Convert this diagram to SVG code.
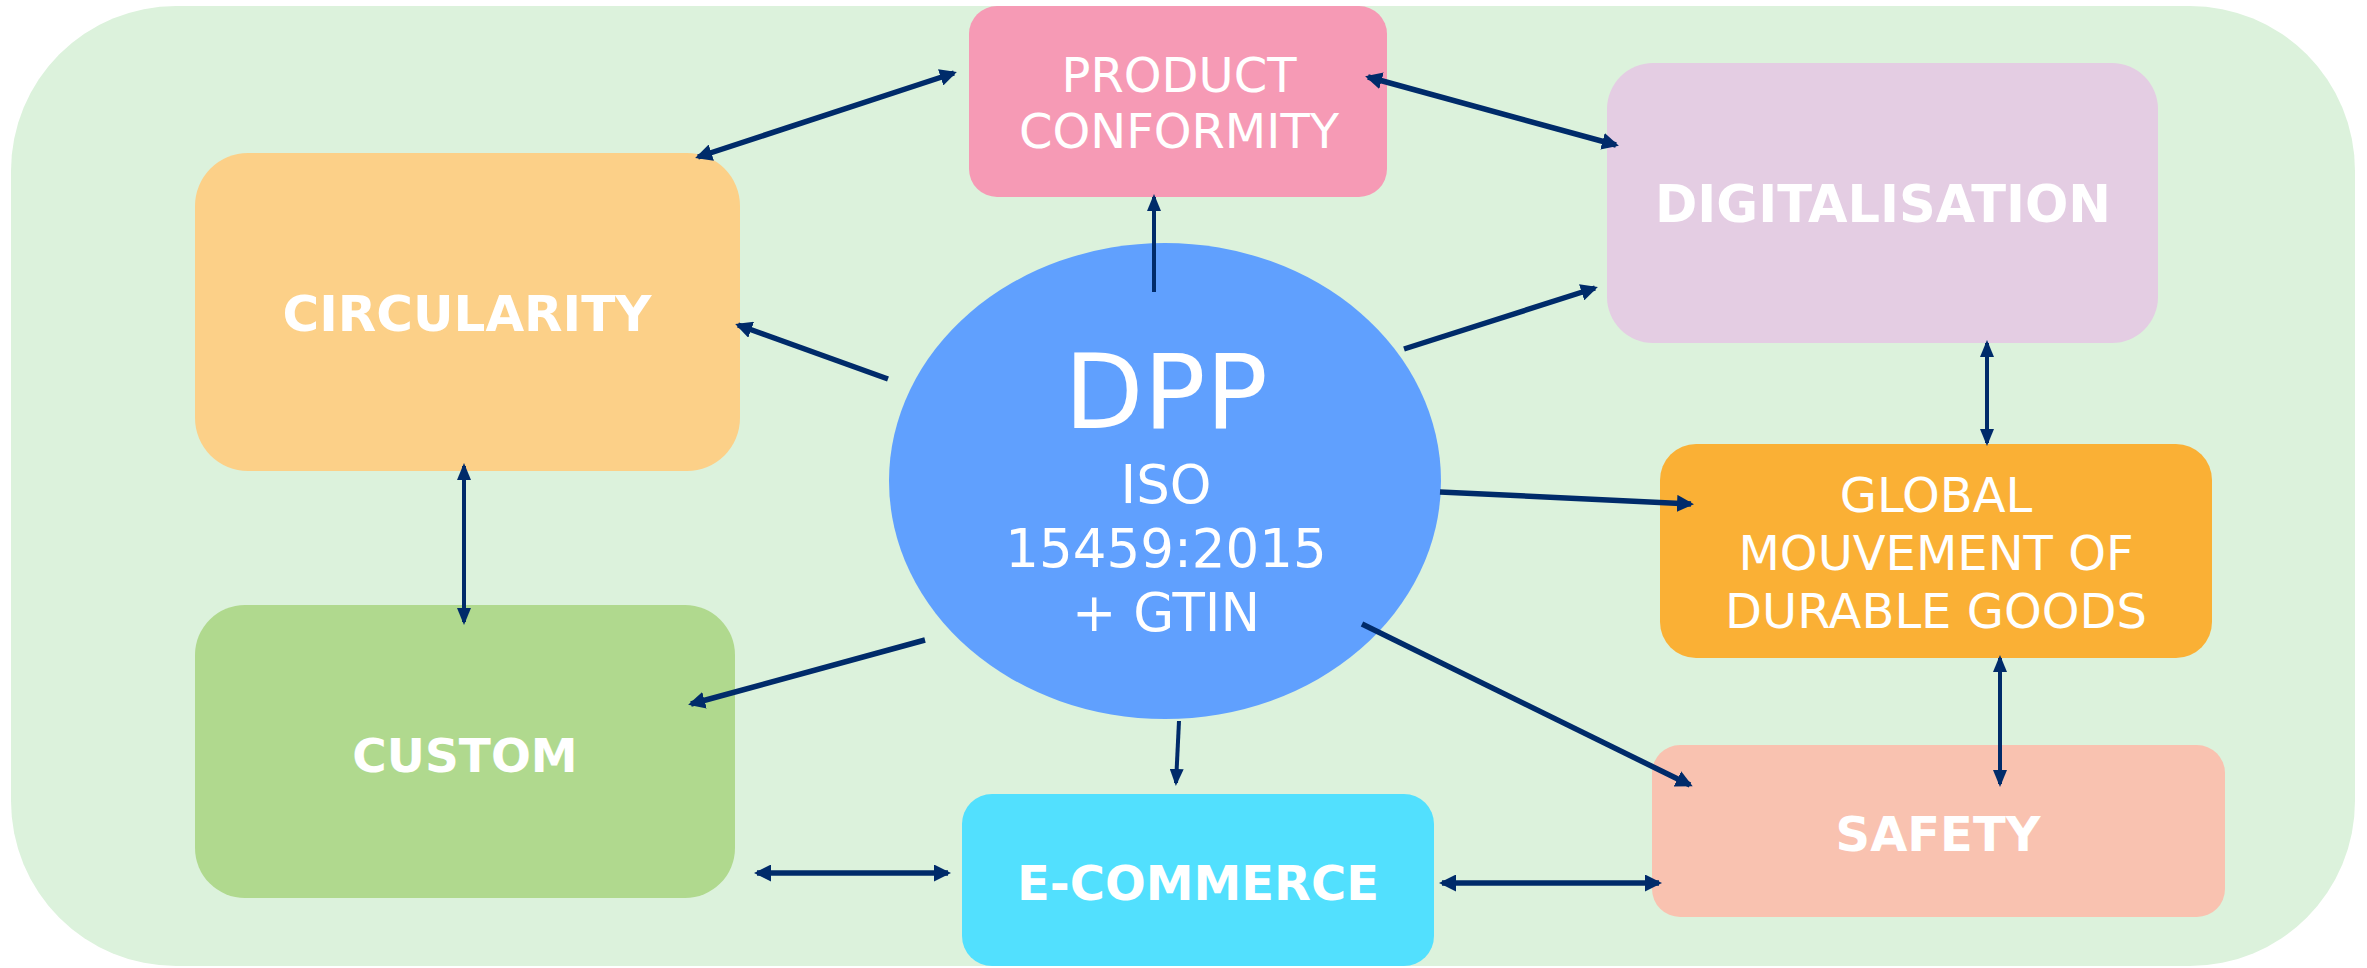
<svg xmlns="http://www.w3.org/2000/svg" width="2367" height="968" viewBox="0 0 2367 968">
<style>
.t{fill:#ffffff;font-family:"DejaVu Sans","Liberation Sans",sans-serif;text-anchor:middle}
.b{font-weight:bold}
.r{font-size:48px}
.c{fill:none;stroke:#002B6A}
.k{stroke-width:5.5}
.n{stroke-width:4}
</style>
<defs>
<marker id="ah" markerUnits="userSpaceOnUse" viewBox="0 0 17 17" refX="14" refY="8.5" markerWidth="17" markerHeight="17" orient="auto-start-reverse">
<path d="M0,0 L17,8.5 L0,17 z" fill="#002B6A"/>
</marker>
<marker id="an" markerUnits="userSpaceOnUse" viewBox="0 0 17 14" refX="14" refY="7" markerWidth="17" markerHeight="14" orient="auto-start-reverse">
<path d="M0,0 L17,7 L0,14 z" fill="#002B6A"/>
</marker>
</defs>
<rect x="11" y="6" width="2344" height="960" rx="165" ry="165" fill="#DCF2DC"/>

<g id="circularity">
<rect x="195" y="153" width="545" height="318" rx="53" fill="#FCD088"/>
<text class="t b" x="467" y="331" font-size="50">CIRCULARITY</text>
</g>
<g id="product-conformity">
<rect x="969" y="6" width="418" height="191" rx="28" fill="#F69AB5"/>
<text class="t r" x="1179" y="92">PRODUCT</text>
<text class="t r" x="1179" y="148">CONFORMITY</text>
</g>
<g id="digitalisation">
<rect x="1607" y="63" width="551" height="280" rx="46" fill="#E4CDE3"/>
<text class="t b" x="1883" y="222" font-size="51">DIGITALISATION</text>
</g>
<g id="global">
<rect x="1660" y="444" width="552" height="214" rx="36" fill="#FAB035"/>
<text class="t r" x="1936" y="512">GLOBAL</text>
<text class="t r" x="1936" y="570">MOUVEMENT OF</text>
<text class="t r" x="1936" y="628">DURABLE GOODS</text>
</g>
<g id="safety">
<rect x="1652" y="745" width="573" height="172" rx="28" fill="#F9C2B0"/>
<text class="t b" x="1938" y="851" font-size="48">SAFETY</text>
</g>
<g id="ecommerce">
<rect x="962" y="794" width="472" height="172" rx="30" fill="#52E0FE"/>
<text class="t b" x="1198" y="900" font-size="48">E-COMMERCE</text>
</g>
<g id="custom">
<rect x="195" y="605" width="540" height="293" rx="50" fill="#B0D98E"/>
<text class="t b" x="465" y="772" font-size="47">CUSTOM</text>
</g>
<g id="dpp">
<ellipse cx="1165" cy="481" rx="276" ry="238" fill="#60A0FE"/>
<text class="t" x="1166" y="428" font-size="103">DPP</text>
<text class="t" x="1166" y="503" font-size="53">ISO</text>
<text class="t" x="1166" y="567" font-size="53">15459:2015</text>
<text class="t" x="1166" y="631" font-size="53">+ GTIN</text>
</g>

<g id="connectors">
<line class="c k" x1="698" y1="157" x2="954" y2="73" marker-start="url(#ah)" marker-end="url(#ah)"/>
<line class="c k" x1="1368" y1="77" x2="1616" y2="145" marker-start="url(#ah)" marker-end="url(#ah)"/>
<line class="c n" x1="1154" y1="292" x2="1154" y2="197" marker-end="url(#an)"/>
<line class="c k" x1="888" y1="379" x2="738" y2="325" marker-end="url(#ah)"/>
<line class="c k" x1="1404" y1="349" x2="1595" y2="288" marker-end="url(#ah)"/>
<line class="c n" x1="1987" y1="343" x2="1987" y2="443" marker-start="url(#an)" marker-end="url(#an)"/>
<line class="c n" x1="464" y1="466" x2="464" y2="622" marker-start="url(#an)" marker-end="url(#an)"/>
<line class="c k" x1="1440" y1="492" x2="1691" y2="504" marker-end="url(#ah)"/>
<line class="c k" x1="925" y1="640" x2="691" y2="704" marker-end="url(#ah)"/>
<line class="c n" x1="1179" y1="721" x2="1176" y2="783" marker-end="url(#an)"/>
<line class="c k" x1="1362" y1="624" x2="1690" y2="785" marker-end="url(#ah)"/>
<line class="c n" x1="2000" y1="658" x2="2000" y2="784" marker-start="url(#an)" marker-end="url(#an)"/>
<line class="c k" x1="757" y1="873" x2="948" y2="873" marker-start="url(#ah)" marker-end="url(#ah)"/>
<line class="c k" x1="1442" y1="883" x2="1659" y2="883" marker-start="url(#ah)" marker-end="url(#ah)"/>
</g>
</svg>
